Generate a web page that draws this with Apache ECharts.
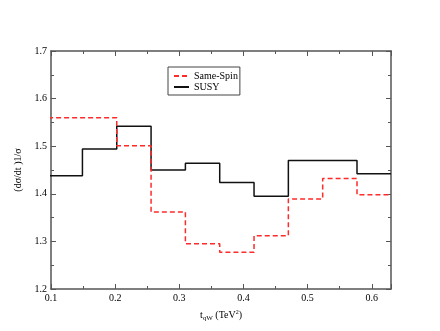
<!DOCTYPE html>
<html>
<head>
<meta charset="utf-8">
<script src="https://cdn.jsdelivr.net/npm/echarts@6/dist/echarts.min.js"></script>
<style>
  html, body { margin: 0; padding: 0; background: #fff; }
  #chart { width: 440px; height: 331px; }
</style>
</head>
<body>
<div id="chart"></div>
<script>
// bin edges (TeV^2), 10 bins
const binEdges = [0.0955, 0.149, 0.2025, 0.256, 0.3095, 0.363, 0.4165, 0.47, 0.5235, 0.577, 0.63]
const sameSpin = [1.56, 1.56, 1.501, 1.362, 1.295, 1.277, 1.312, 1.389, 1.432, 1.398]
const susy = [1.438, 1.494, 1.542, 1.450, 1.464, 1.424, 1.395, 1.470, 1.470, 1.442]
const xTicks = ['0.1', '0.2', '0.3', '0.4', '0.5', '0.6']
const yTicks = ['1.2', '1.3', '1.4', '1.5', '1.6', '1.7']

const font = 'Liberation Serif'

// step points: each bin's left edge + closing point at the last edge
const toSteps = vals => {
  const pts = vals.map((v, i) => [binEdges[i], v])
  pts.push([binEdges[binEdges.length - 1], vals[vals.length - 1]])
  return pts
}

const xFmt = v => {
  const s = v.toFixed(1)
  return xTicks.includes(s) && Math.abs(v - parseFloat(s)) < 1e-6 ? s : ''
}
const yFmt = v => {
  const s = v.toFixed(1)
  return yTicks.includes(s) && Math.abs(v - parseFloat(s)) < 1e-6 ? s : ''
}

const axisCommon = {
  axisLine: { lineStyle: { color: '#555', width: 1.5 } },
  axisTick: { inside: true, length: 5, lineStyle: { color: '#555' } },
  minorTick: { show: true, splitNumber: 2, length: 3, lineStyle: { color: '#555' } },
  splitLine: { show: false },
  minorSplitLine: { show: false }
}

const chart = echarts.init(document.getElementById('chart'))
chart.setOption({
  animation: false,
  backgroundColor: '#fff',
  grid: { left: 51, right: 49, top: 51, bottom: 42 },
  legend: {
    left: 168, top: 67,
    orient: 'vertical',
    itemGap: 1,
    itemWidth: 15,
    itemHeight: 8,
    padding: [4, 2, 3, 5],
    borderColor: '#444',
    borderWidth: 1,
    itemStyle: { opacity: 0 },
    textStyle: { fontFamily: font, fontSize: 10, color: '#000' },
    data: ['Same-Spin', 'SUSY']
  },
  xAxis: [
    Object.assign({
      type: 'value', min: 0.1, max: 0.63, interval: 0.1,
      name: '{a|t}{sub|qW}{a| (TeV}{sup|2}{a|)}',
      nameLocation: 'middle', nameGap: 20,
      nameTextStyle: {
        rich: {
          a: { fontFamily: font, fontSize: 10, color: '#000' },
          sub: { fontFamily: font, fontSize: 7, color: '#000', padding: [6, 0, 0, 0] },
          sup: { fontFamily: font, fontSize: 6, color: '#000', padding: [0, 0, 6, 0] }
        }
      },
      axisLabel: { formatter: xFmt, fontFamily: font, fontSize: 10, color: '#000', margin: 4, showMaxLabel: false }
    }, axisCommon),
    Object.assign({
      type: 'value', min: 0.1, max: 0.63, interval: 0.1, position: 'top',
      axisLabel: { show: false }
    }, axisCommon)
  ],
  yAxis: [
    Object.assign({
      type: 'value', min: 1.2, max: 1.7, interval: 0.1,
      name: '(dσ/dt )1/σ',
      nameLocation: 'middle', nameGap: 22,
      nameTextStyle: { fontFamily: font, fontSize: 10, color: '#000' },
      axisLabel: { formatter: yFmt, fontFamily: font, fontSize: 10, color: '#000', margin: 4 }
    }, axisCommon),
    Object.assign({
      type: 'value', min: 1.2, max: 1.7, interval: 0.1, position: 'right',
      axisLabel: { show: false }
    }, axisCommon)
  ],
  series: [
    {
      name: 'Same-Spin', type: 'line', step: 'end', symbol: 'none',
      data: toSteps(sameSpin),
      lineStyle: { color: '#ff2a2a', width: 1.5, type: [5, 3] },
      itemStyle: { color: '#ff2a2a' },
      z: 3
    },
    {
      name: 'SUSY', type: 'line', step: 'end', symbol: 'none',
      data: toSteps(susy),
      lineStyle: { color: '#111', width: 1.5 },
      itemStyle: { color: '#111' },
      z: 2
    }
  ]
})
</script>
</body>
</html>
